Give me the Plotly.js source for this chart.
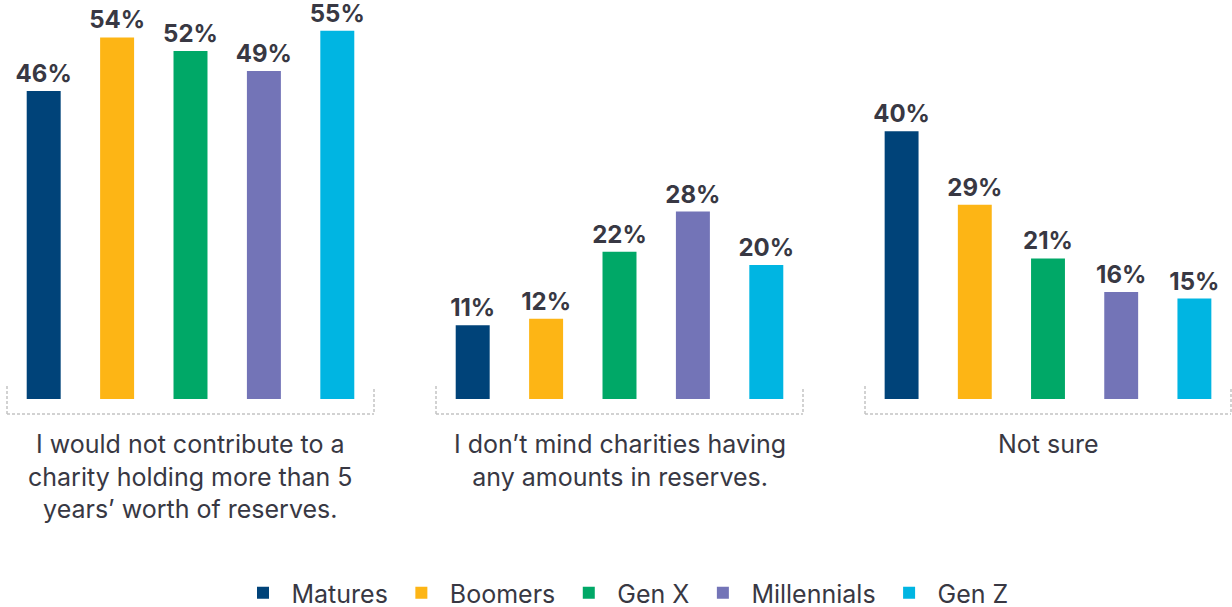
<!DOCTYPE html>
<html>
<head>
<meta charset="utf-8">
<script src="https://cdn.plot.ly/plotly-3.0.1.min.js"></script>
<style>html,body{margin:0;padding:0;background:#fff;}#chart{width:1232px;height:607px;}</style>
</head>
<body>
<div id="chart"></div>
<script>
var generations = ["Matures", "Boomers", "Gen X", "Millennials", "Gen Z"];
var groupLabels = [
  "I would not contribute to a<br>charity holding more than 5<br>years’ worth of reserves.",
  "I don’t mind charities having<br>any amounts in reserves.",
  "Not sure"
];
var notContribute = [46, 54, 52, 49, 55];
var dontMind = [11, 12, 22, 28, 20];
var notSure = [40, 29, 21, 16, 15];
var colors = ["#004379", "#FDB515", "#00A867", "#7374B7", "#00B5E2"];

var groupValues = [notContribute, dontMind, notSure];
var TXT = "#383843";
var FONT = "Inter, 'Open Sans', sans-serif";

var traces = [];
for (var p = 0; p < groupValues.length; p++) {
  for (var g = 0; g < generations.length; g++) {
    traces.push({
      type: "bar",
      name: generations[g],
      legendgroup: generations[g],
      showlegend: p === 0,
      x: [generations[g]],
      y: [groupValues[p][g]],
      xaxis: p === 0 ? "x" : "x" + (p + 1),
      yaxis: "y",
      marker: {color: colors[g]},
      texttemplate: "%{y}%",
      textposition: "outside",
      constraintext: "none",
      textfont: {family: FONT, size: 24, color: TXT, weight: 700},
      cliponaxis: false,
      hoverinfo: "skip"
    });
  }
}

var W = 1232, PH = 399;
var domains = [[7 / W, 374 / W], [436 / W, 803 / W], [865 / W, 1231 / W]];

function xax(i) {
  return {
    domain: domains[i],
    type: "category",
    categoryorder: "array",
    categoryarray: generations,
    range: [-0.5, 4.5],
    showticklabels: false,
    showgrid: false,
    zeroline: false,
    showline: false,
    ticks: "",
    fixedrange: true,
    anchor: "y"
  };
}

var shapes = [];
var annotations = [];
var dotted = {color: "#c4c4c4", width: 1.5, dash: "3px,2px"};
var yTopL = (PH - 386) / PH, yTopR = (PH - 389) / PH, yBot = (PH - 414) / PH;
for (var i = 0; i < 3; i++) {
  var xr = (i === 0 ? "x" : "x" + (i + 1)) + " domain";
  shapes.push({type: "line", xref: xr, yref: "paper", x0: 0, x1: 0, y0: yTopL, y1: yBot, line: dotted});
  shapes.push({type: "line", xref: xr, yref: "paper", x0: 1, x1: 1, y0: yTopR, y1: yBot, line: dotted});
  shapes.push({type: "line", xref: xr, yref: "paper", x0: 0, x1: 1, y0: yBot, y1: yBot, line: dotted});
  annotations.push({
    xref: xr, yref: "paper", x: 0.5, y: -28 / PH,
    xanchor: "center", yanchor: "top",
    text: groupLabels[i], showarrow: false, align: "center",
    font: {family: FONT, size: 25, color: TXT}
  });
}

var layout = {
  width: 1232, height: 607,
  margin: {l: 0, r: 0, t: 0, b: 607 - PH, pad: 0, autoexpand: false},
  paper_bgcolor: "#ffffff", plot_bgcolor: "#ffffff",
  barmode: "overlay",
  bargap: 0.537,
  xaxis: xax(0), xaxis2: xax(1), xaxis3: xax(2),
  yaxis: {range: [0, 59.6], visible: false, fixedrange: true, domain: [0, 1]},
  shapes: shapes,
  annotations: annotations,
  showlegend: true,
  legend: {
    orientation: "h", x: 0.5 + 8 / W, xanchor: "center", y: -194 / PH, yanchor: "middle",
    font: {family: FONT, size: 25, color: TXT},
    itemwidth: 47,
    traceorder: "normal", itemclick: false, itemdoubleclick: false
  },
  font: {family: FONT, color: TXT}
};

Plotly.newPlot("chart", traces, layout, {displayModeBar: false, staticPlot: true});
</script>
</body>
</html>
